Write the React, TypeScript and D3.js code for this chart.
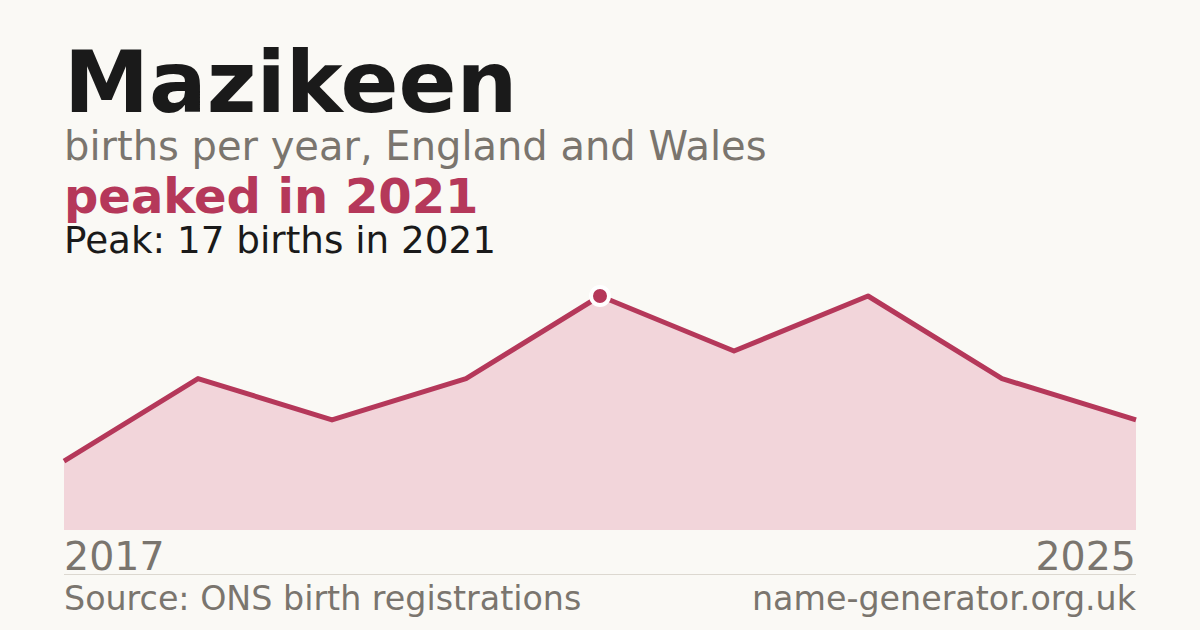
import * as d3 from 'd3';
import React from 'react';

const years = [2017, 2018, 2019, 2020, 2021, 2022, 2023, 2024, 2025];
const births = [5, 11, 8, 11, 17, 13, 17, 11, 8];
const peakYear = 2021;

const W = 1200;
const H = 630;
const margin = { left: 64, right: 64 };
const chartTop = 296;
const chartBottom = 530;

const accent = '#b5385a';
const grey = '#7a756e';
const font = '"DejaVu Sans", sans-serif';

export default function App() {
  const x = d3
    .scaleLinear()
    .domain(d3.extent(years) as [number, number])
    .range([margin.left, W - margin.right]);
  const y = d3
    .scaleLinear()
    .domain([0, d3.max(births) as number])
    .range([chartBottom, chartTop]);

  const pts = years.map((yr, i) => ({ yr, v: births[i] }));
  const area = d3
    .area<{ yr: number; v: number }>()
    .x((d) => x(d.yr))
    .y0(chartBottom)
    .y1((d) => y(d.v));
  const line = d3
    .line<{ yr: number; v: number }>()
    .x((d) => x(d.yr))
    .y((d) => y(d.v));

  const peak = pts.find((d) => d.yr === peakYear)!;

  return (
    <svg
      width={W}
      height={H}
      style={{ position: 'absolute', left: 0, top: 0, display: 'block' }}
      fontFamily={font}
    >
      <rect width={W} height={H} fill="#faf9f5" />
      <text x={64} y={112} fontSize={85.5} fontWeight="bold" fill="#1a1a1a">
        Mazikeen
      </text>
      <text x={64} y={160} fontSize={40} fill={grey}>
        births per year, England and Wales
      </text>
      <text x={64} y={213} fontSize={48} fontWeight="bold" fill={accent}>
        peaked in {peakYear}
      </text>
      <text x={64} y={253} fontSize={37.3} fill="#1a1a1a">
        Peak: {peak.v} births in {peakYear}
      </text>

      <path d={area(pts) ?? ''} fill="#f2d5da" />
      <path d={line(pts) ?? ''} fill="none" stroke={accent} strokeWidth={5} strokeLinejoin="round" />
      <circle cx={x(peak.yr)} cy={y(peak.v)} r={9} fill={accent} stroke="#ffffff" strokeWidth={4} />

      <text x={x(years[0])} y={570} fontSize={39.5} fill={grey}>
        {years[0]}
      </text>
      <text x={x(years[years.length - 1])} y={570} fontSize={39.5} fill={grey} textAnchor="end">
        {years[years.length - 1]}
      </text>
      <line x1={64} x2={W - 64} y1={574.5} y2={574.5} stroke="#dcd8d0" strokeWidth={1} />
      <text x={64} y={610} fontSize={33.3} fill={grey}>
        Source: ONS birth registrations
      </text>
      <text x={W - 64} y={610} fontSize={33.3} fill={grey} textAnchor="end">
        name-generator.org.uk
      </text>
    </svg>
  );
}
